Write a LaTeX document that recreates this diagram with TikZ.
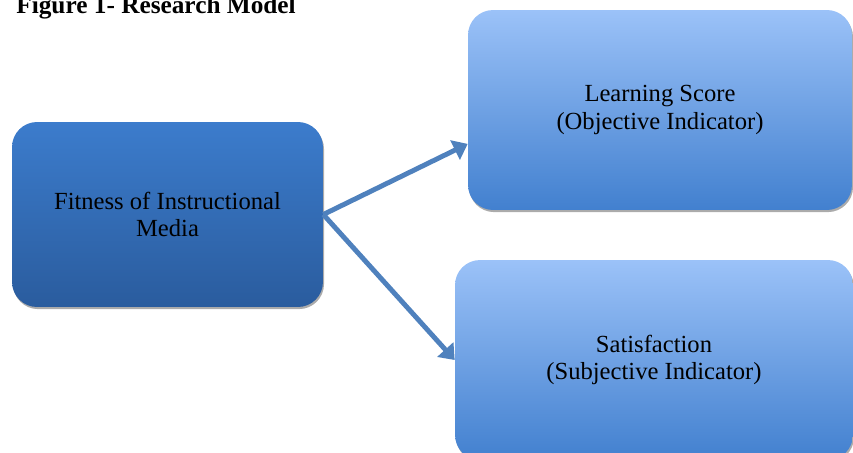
\documentclass[tikz,border=0pt]{standalone}
\usepackage{fontspec}
\setmainfont{Liberation Serif}
\usepackage{tikz}
\usetikzlibrary{arrows.meta,shadows}

\definecolor{darkbox}{RGB}{60,124,204}
\definecolor{darkboxlow}{RGB}{42,92,158}
\definecolor{lightbox}{RGB}{155,194,248}
\definecolor{lightboxlow}{RGB}{66,128,207}
\definecolor{arrowblue}{RGB}{79,129,189}

\tikzset{
	modelbox/.style={rounded corners=0.5cm, align=center, inner sep=0pt,
		font=\fontsize{14}{15.5}\selectfont,
		drop shadow={shadow xshift=0.6pt, shadow yshift=-1.2pt, fill=black!55, opacity=.6}},
	causebox/.style={modelbox, minimum width=6.22cm, minimum height=3.7cm,
		top color=darkbox, bottom color=darkboxlow},
	effectbox/.style={modelbox, minimum height=4cm,
		top color=lightbox, bottom color=lightboxlow},
	link/.style={arrowblue, line width=2.8pt, -{Triangle[length=8pt,width=12pt]}}
}

\begin{document}
\begin{tikzpicture}[x=0.02cm,y=-0.02cm]
		\useasboundingbox (0,0) rectangle (853,453);
		\node[anchor=base west, inner sep=0pt, font=\fontsize{14.4}{16}\selectfont\bfseries] (title) at (16,13) {Figure 1- Research Model};

		\node[causebox] (fit) at (167.5,214.5) {Fitness of Instructional\\Media};
		\node[effectbox, minimum width=7.68cm] (lrn) at (660,110) {Learning Score\\(Objective Indicator)};
		\node[effectbox, minimum width=7.96cm] (sat) at (654,360) {Satisfaction\\(Subjective Indicator)};

		\draw[link] (fit.east) -- (lrn.190);
		\draw[link] (fit.east) -- (sat.west);
	\end{tikzpicture}
\end{document}
